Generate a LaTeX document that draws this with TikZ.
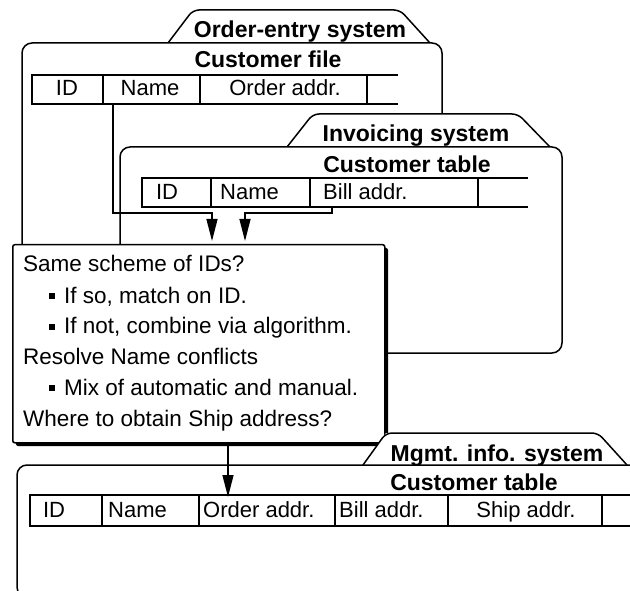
\documentclass[tikz,border=0pt]{standalone}
\usepackage{fontspec}
\setmainfont{Liberation Sans}
\usetikzlibrary{arrows.meta}
\begin{document}
\begin{tikzpicture}[x=1pt,y=-1pt,
  folderbody/.style={draw=black, line width=1.5pt, fill=white, rounded corners=10pt},
  folderedge/.style={draw=black, line width=1.5pt, rounded corners=6pt},
  tablerule/.style={draw=black, line width=1.3pt},
  flow/.style={draw=black, line width=1.4pt, -{Triangle[length=22pt,width=11pt]}},
  foldertitle/.style={font=\fontsize{23}{26}\selectfont\bfseries, inner sep=0pt, anchor=base},
  celltext/.style={font=\fontsize{22}{26}\selectfont, inner sep=0pt},
  remark/.style={font=\fontsize{22.5}{26}\selectfont, inner sep=0pt, anchor=base west},
]
\useasboundingbox (0,0) rectangle (630,591);
\clip (0,0) rectangle (630,591);

% ---------- Order-entry system ----------
\fill[white] (168,43) -- (193,10) -- (400,10) -- (430,43) -- cycle;
\draw[folderedge] (168,43) -- (193,10) -- (400,10) -- (430,43);
\draw[folderbody] (22,43) rectangle (442,340);
\node[foldertitle] (oeTitle) at (300,38) {Order-entry system};
\node[foldertitle] (oeFile) at (268,68) {Customer file};
\draw[tablerule] (398,75) -- (32,75) -- (32,104) -- (398,104)
  (103,75) -- (103,104) (200,75) -- (200,104) (367,75) -- (367,104);
\node[celltext, anchor=base] (oeID) at (67,96) {ID};
\node[celltext, anchor=base] (oeName) at (150,96) {Name};
\node[celltext, anchor=base] (oeOrder) at (285,96) {Order addr.};

% ---------- Invoicing system ----------
\fill[white] (287,147) -- (313,114) -- (518,114) -- (550,147) -- cycle;
\draw[folderedge] (287,147) -- (313,114) -- (518,114) -- (550,147);
\draw[folderbody] (120,147) rectangle (562,353);
\node[foldertitle] (invTitle) at (416,142) {Invoicing system};
\node[foldertitle] (invTable) at (407,173) {Customer table};
\draw[tablerule] (528,178) -- (142,178) -- (142,207) -- (528,207)
  (211,178) -- (211,207) (310,178) -- (310,207) (478,178) -- (478,207);
\node[celltext, anchor=base] (invID) at (167,200) {ID};
\node[celltext, anchor=base west] (invName) at (220,200) {Name};
\node[celltext, anchor=base west] (invBill) at (323,200) {Bill addr.};

% ---------- reconciliation notes ----------
\fill[black, rounded corners=2pt] (16,248) rectangle (388,446);
\node[draw=black, line width=1.5pt, fill=white, rounded corners=2pt,
  minimum width=372pt, minimum height=198pt, inner sep=0pt,
  anchor=north west] (dec) at (12,244) {};
\node[remark] (q1) at (23,272) {Same scheme of IDs?};
\node[remark] (q1a) at (64,303) {If so, match on ID.};
\node[remark] (q1b) at (64,334) {If not, combine via algorithm.};
\node[remark] (q2) at (23,364) {Resolve Name conflicts};
\node[remark] (q2a) at (64,395) {Mix of automatic and manual.};
\node[remark] (q3) at (23,426) {Where to obtain Ship address?};
\foreach \yb in {303,334,395}
  \fill[black] (49,\yb-10) rectangle (55,\yb-4);

% ---------- feeds into the notes ----------
\coordinate (oeNameFoot) at (113,104);
\coordinate (join1) at (212,213);
\draw[flow] (oeNameFoot) |- (join1) -- ([yshift=3pt]join1 |- dec.north);
\coordinate (invBillFoot) at (332,207);
\coordinate (join2) at (245,213);
\draw[flow] (invBillFoot) |- (join2) -- ([yshift=3pt]join2 |- dec.north);

% ---------- Mgmt. info. system ----------
\fill[white] (363,465) -- (386,433) -- (598,433) -- (627,465) -- cycle;
\draw[folderedge] (363,465) -- (386,433) -- (598,433) -- (627,465);
\draw[folderbody] (17,465) rectangle (680,597);
\node[foldertitle] (mgTitle) at (497,461) {Mgmt. info. system};
\node[foldertitle] (mgTable) at (474,490) {Customer table};
\draw[tablerule] (640,495) -- (30,495) -- (30,526) -- (640,526)
  (102,495) -- (102,526) (199,495) -- (199,526) (335,495) -- (335,526)
  (448,495) -- (448,526) (602,495) -- (602,526);
\node[celltext, anchor=base] (mgID) at (54,517) {ID};
\node[celltext, anchor=base west] (mgName) at (108,517) {Name};
\node[celltext, anchor=base west] (mgOrder) at (203,517) {Order addr.};
\node[celltext, anchor=base west] (mgBill) at (339,517) {Bill addr.};
\node[celltext, anchor=base] (mgShip) at (526,517) {Ship addr.};

\coordinate (mgOrderTop) at (228,497);
\draw[flow] (dec.south -| mgOrderTop) -- (mgOrderTop);
\end{tikzpicture}
\end{document}
